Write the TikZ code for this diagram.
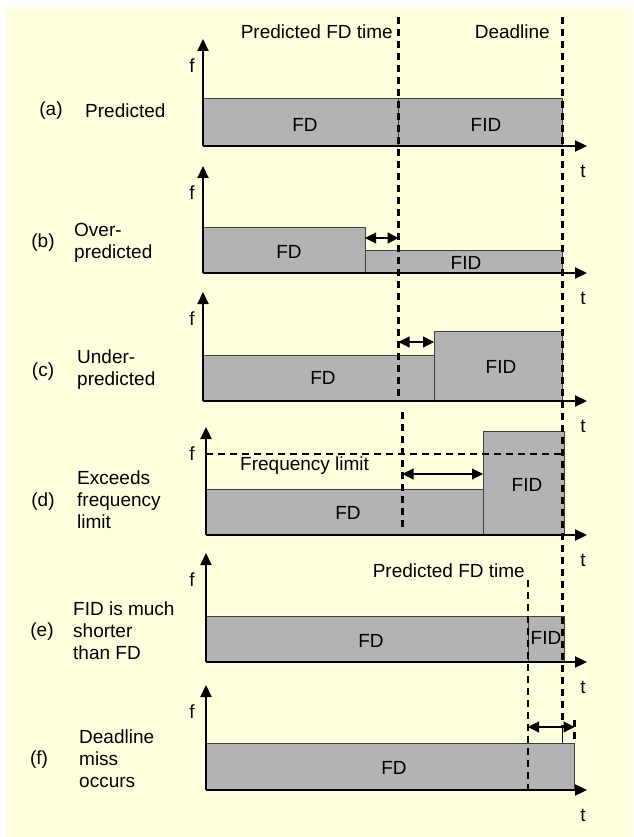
\documentclass[tikz,border=0pt]{standalone}
\usepackage{fontspec}
\setmainfont{Liberation Sans}
\usetikzlibrary{arrows.meta}
\definecolor{paper}{RGB}{255,255,224}
\definecolor{barfill}{RGB}{179,179,179}
\definecolor{barline}{RGB}{64,64,64}

% axes of one panel: name, axis x, top of f axis, time axis y
\newcommand{\panelaxes}[4]{%
  \coordinate (#1o) at (#2,#4);
  \coordinate (#1top) at (#2,#3);
  \coordinate (#1end) at (587,#4);
  \draw[axisline] (#1o) -- (#1top);
  \draw[axisline] (#1o) -- (#1end);
  \node[txt] (#1f) at (192,#3+27) {f};
  \node[txt] (#1t) at (583,#4+25) {t};
}

\begin{document}
\begin{tikzpicture}[x=1pt,y=-1pt,
  txt/.style={font=\fontsize{19}{22}\selectfont, inner sep=0pt},
  lbl/.style={txt, anchor=west, align=left},
  bar/.style={fill=barfill, draw=barline, line width=1pt},
  axisline/.style={line width=2.2pt, -{Triangle[length=12pt,width=11pt]}},
  guide/.style={line width=2.2pt, dash pattern=on 7pt off 5pt},
  span/.style={line width=1.2pt, {Triangle[length=11pt,width=11pt]}-{Triangle[length=11pt,width=11pt]}},
]
\useasboundingbox (0,0) rectangle (633,837);
\fill[paper] (6,7) rectangle (633,837);

% ---- bars ----
% (a)
\draw[bar] (203,99) rectangle (398.5,146);
\draw[bar] (398.5,99) rectangle (562.5,146);
% (b)
\draw[bar] (203,227) rectangle (365,273);
\draw[bar] (365,250) rectangle (562.5,273);
% (c)
\draw[bar] (203,355) rectangle (434,401);
\draw[bar] (434,331) rectangle (562.5,401);
% (d)
\draw[bar] (206,489) rectangle (483,535);
\draw[bar] (483,431) rectangle (564,535);
% (e)
\draw[bar] (206,616) rectangle (528,662);
\draw[bar] (528,616) rectangle (564,662);
% (f)
\draw[bar] (206,743) rectangle (574.5,790);

% ---- bar labels ----
\node[txt] (fda) at (305,125) {FD};
\node[txt] (fida) at (486,125) {FID};
\node[txt] (fdb) at (289,252) {FD};
\node[txt] (fidb) at (466,263) {FID};
\node[txt] (fdc) at (323,378) {FD};
\node[txt] (fidc) at (501,367) {FID};
\node[txt] (fdd) at (348,513) {FD};
\node[txt] (fidd) at (527,485) {FID};
\node[txt] (fde) at (371,641) {FD};
\node[txt] (fide) at (546,638) {FID};
\node[txt] (fdf) at (394,768) {FD};

% ---- axes ----
\panelaxes{a}{203}{39}{146}
\panelaxes{b}{203}{166}{273}
\panelaxes{c}{203}{292}{401}
\panelaxes{d}{206}{427}{535}
\panelaxes{e}{206}{553}{662}
\panelaxes{f}{206}{685}{790}

% ---- guide lines ----
\coordinate (predtop) at (398.5,17);
\coordinate (predbot) at (398.5,401);
\coordinate (preddtop) at (402.5,412);
\coordinate (preddbot) at (402.5,527);
\coordinate (deadtop) at (562.5,17);
\coordinate (deadmid) at (562.5,727);
\coordinate (deadbot) at (562.5,743);
\coordinate (predetop) at (528,580);
\coordinate (predebot) at (528,790);
\coordinate (misstop) at (574.5,720);
\coordinate (missbot) at (574.5,743);
\coordinate (limitl) at (206,454);
\coordinate (limitr) at (561,454);
\draw[guide] (predtop) -- (predbot);
\draw[guide] (preddtop) -- (preddbot);
\draw[guide] (deadtop) -- (deadmid);
\draw[line width=1.5pt] (deadmid) -- (deadbot);
\draw[guide] (predetop) -- (predebot);
\draw[guide] (misstop) -- (missbot);
\draw[guide] (limitl) -- (limitr);

% ---- differences ----
\coordinate (sb1) at (365,238);
\coordinate (sb2) at (398.5,238);
\coordinate (sc1) at (398.5,342);
\coordinate (sc2) at (434,342);
\coordinate (sd1) at (402.5,474);
\coordinate (sd2) at (483,474);
\coordinate (sf1) at (528,727);
\coordinate (sf2) at (574.5,727);
\draw[span] (sb1) -- (sb2);
\draw[span] (sc1) -- (sc2);
\draw[span] (sd1) -- (sd2);
\draw[span] (sf1) -- (sf2);

% ---- headings ----
\node[txt, anchor=east] (predhead) at (393,32) {Predicted FD time};
\node[txt, anchor=east] (deadhead) at (550,32) {Deadline};
\node[txt, anchor=west] (limithead) at (240,466) {Frequency limit};
\node[txt, anchor=east] (predehead) at (525,571) {Predicted FD time};

% ---- row captions ----
\node[txt] (ka) at (51,111) {(a)};
\node[lbl] (la) at (85,111) {Predicted};
\node[txt] (kb) at (43,243) {(b)};
\node[lbl] (lb) at (74,243) {Over-\\predicted};
\node[txt] (kc) at (43,372) {(c)};
\node[lbl] (lc) at (77,370) {Under-\\predicted};
\node[txt] (kd) at (43,502) {(d)};
\node[lbl] (ld) at (77,500) {Exceeds\\frequency\\limit};
\node[txt] (ke) at (42,632) {(e)};
\node[lbl] (le) at (73,631) {FID is much\\shorter\\than FD};
\node[txt] (kf) at (39,760) {(f)};
\node[lbl] (lf) at (79,759) {Deadline\\miss\\occurs};
\end{tikzpicture}
\end{document}
